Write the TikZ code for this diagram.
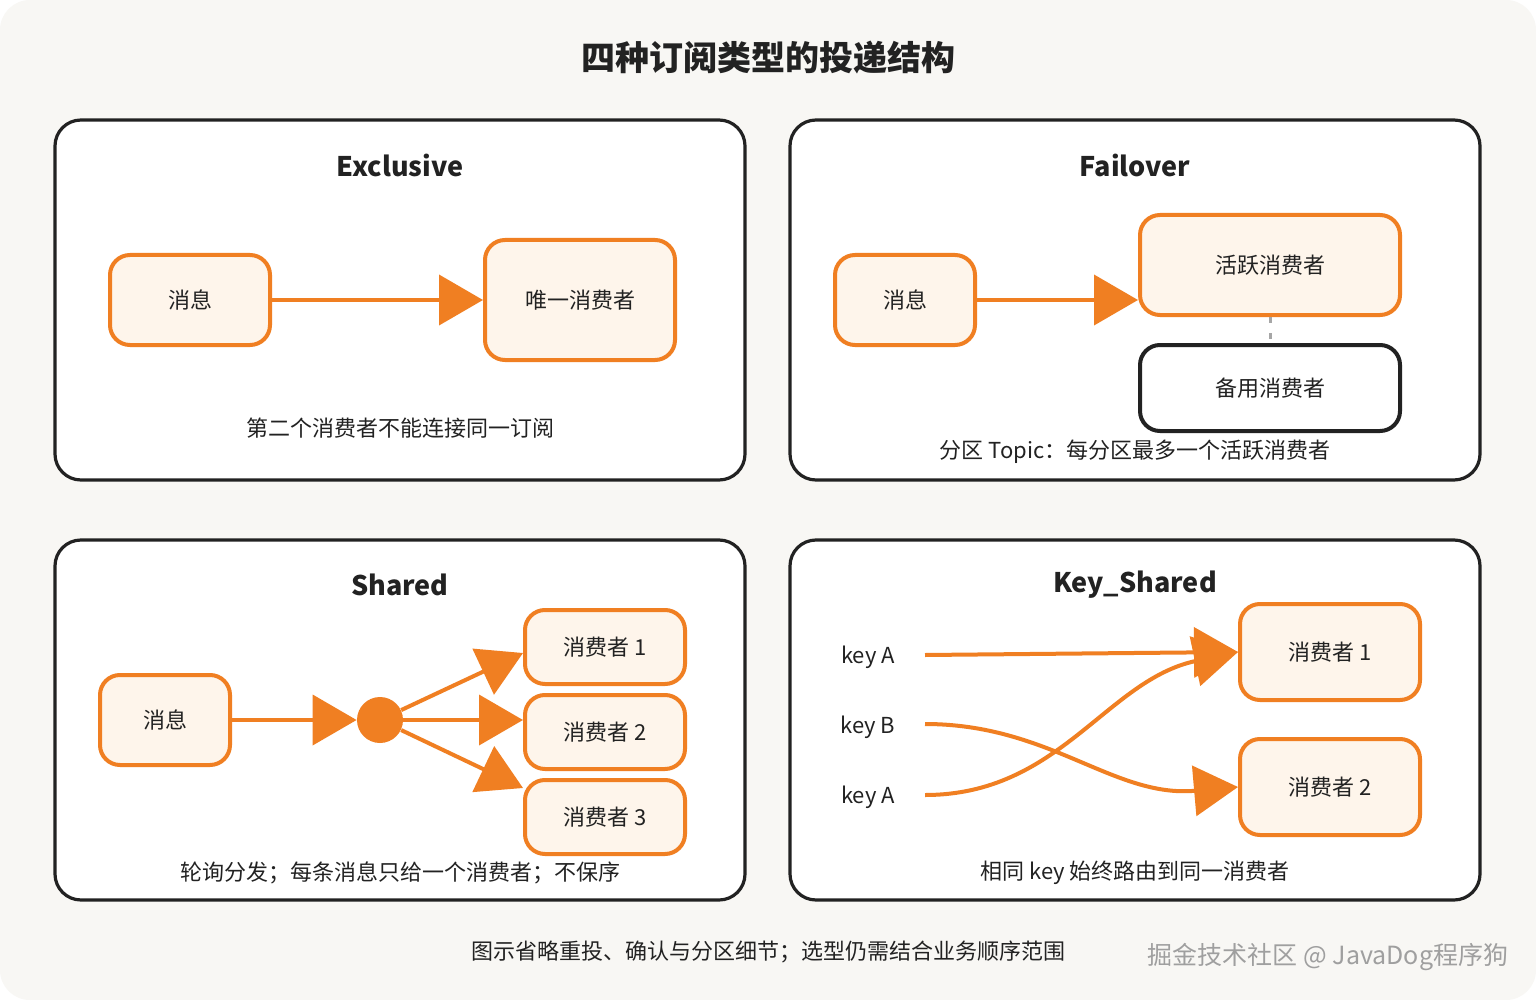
\documentclass[tikz,border=0pt]{standalone}
\usepackage{fontspec}
\setmainfont{Noto Sans CJK SC}
\usetikzlibrary{arrows.meta}

\definecolor{accent}{HTML}{F07F22}
\definecolor{boxfill}{HTML}{FEF5EB}
\definecolor{paper}{HTML}{F8F7F4}
\definecolor{ink}{HTML}{222222}

\tikzset{
    panel/.style={draw=ink, line width=1.6pt, fill=white, rounded corners=13pt},
    box/.style={draw=accent, line width=2pt, fill=boxfill, rounded corners=10pt,
        text=ink, font=\fontsize{11}{13}\selectfont, inner sep=0pt},
    idle/.style={box, draw=ink, fill=white},
    arr/.style={draw=accent, line width=2pt, -{Triangle[length=22pt,width=25pt]}},
    head/.style={font=\bfseries\fontsize{13.5}{16}\selectfont, text=ink},
    note/.style={font=\fontsize{11}{13}\selectfont, text=ink},
}

\begin{document}
\begin{tikzpicture}[x=0.5pt, y=-0.5pt]
    \useasboundingbox (0,0) rectangle (1536,1000);
    \fill[white] (0,0) rectangle (1536,1000);
    \fill[paper, rounded corners=15pt] (0,0) rectangle (1536,1000);

    \node[font=\bfseries\fontsize{17}{20}\selectfont, text=ink] (title) at (768,58) {四种订阅类型的投递结构};

    \draw[panel] (55,120) rectangle (745,480);
    \draw[panel] (790,120) rectangle (1480,480);
    \draw[panel] (55,540) rectangle (745,900);
    \draw[panel] (790,540) rectangle (1480,900);

    % Exclusive
    \node[head] (h1) at (400,165) {Exclusive};
    \node[box, minimum width=80pt, minimum height=45pt] (m1) at (190,300) {消息};
    \node[box, minimum width=95pt, minimum height=60pt] (u1) at (580,300) {唯一消费者};
    \draw[arr] (m1) -- (u1);
    \node[note] (n1) at (400,428) {第二个消费者不能连接同一订阅};

    % Failover
    \node[head] (h2) at (1135,165) {Failover};
    \node[box, minimum width=70pt, minimum height=45pt] (m2) at (905,300) {消息};
    \node[box, minimum width=130pt, minimum height=50pt] (act) at (1270,265) {活跃消费者};
    \node[idle, minimum width=130pt, minimum height=43pt] (bak) at (1270,388) {备用消费者};
    \draw[arr] (m2) -- (m2 -| act.west);
    \draw[gray!70, line width=1.5pt, dash pattern=on 3pt off 5pt] (act) -- (bak);
    \node[note] (n2) at (1135,452) {分区 Topic：每分区最多一个活跃消费者};

    % Shared
    \node[head] (h3) at (400,585) {Shared};
    \node[box, minimum width=65pt, minimum height=45pt] (m3) at (165,720) {消息};
    \node[circle, fill=accent, minimum size=23pt, inner sep=0pt] (hub) at (380,720) {};
    \node[box, minimum width=80pt, minimum height=37pt] (c1) at (605,647) {消费者 1};
    \node[box, minimum width=80pt, minimum height=37pt] (c2) at (605,732) {消费者 2};
    \node[box, minimum width=80pt, minimum height=37pt] (c3) at (605,817) {消费者 3};
    \draw[arr] (m3) -- (hub);
    \draw[arr] (hub) -- ([yshift=-3pt]c1.west);
    \draw[arr] (hub) -- (hub -| c2.west);
    \draw[arr] (hub) -- ([yshift=-5pt]c3.north west);
    \node[note] (n3) at (400,873) {轮询分发；每条消息只给一个消费者；不保序};

    % Key_Shared
    \node[head] (h4) at (1135,585) {Key\_Shared};
    \node[note] (ka) at (868,657) {key A};
    \node[note] (kb) at (868,727) {key B};
    \node[note] (kc) at (868,797) {key A};
    \coordinate (sa) at (925,655);
    \coordinate (sb) at (925,724);
    \coordinate (sc) at (925,795);
    \node[box, minimum width=90pt, minimum height=48pt] (k1) at (1330,652) {消费者 1};
    \node[box, minimum width=90pt, minimum height=48pt] (k2) at (1330,787) {消费者 2};
    \draw[arr] (sa) -- (k1.west);
    \draw[arr] (sb) to[out=0, in=185] (k2.west);
    \draw[arr] (sc) to[out=0, in=192] (k1.west);
    \node[note] (n4) at (1135,873) {相同 key 始终路由到同一消费者};

    \node[note] (foot) at (768,952) {图示省略重投、确认与分区细节；选型仍需结合业务顺序范围};
    \node[font=\fontsize{12.5}{15}\selectfont, text=gray!75] (mark) at (1328,957) {掘金技术社区 @ JavaDog程序狗};
\end{tikzpicture}
\end{document}
